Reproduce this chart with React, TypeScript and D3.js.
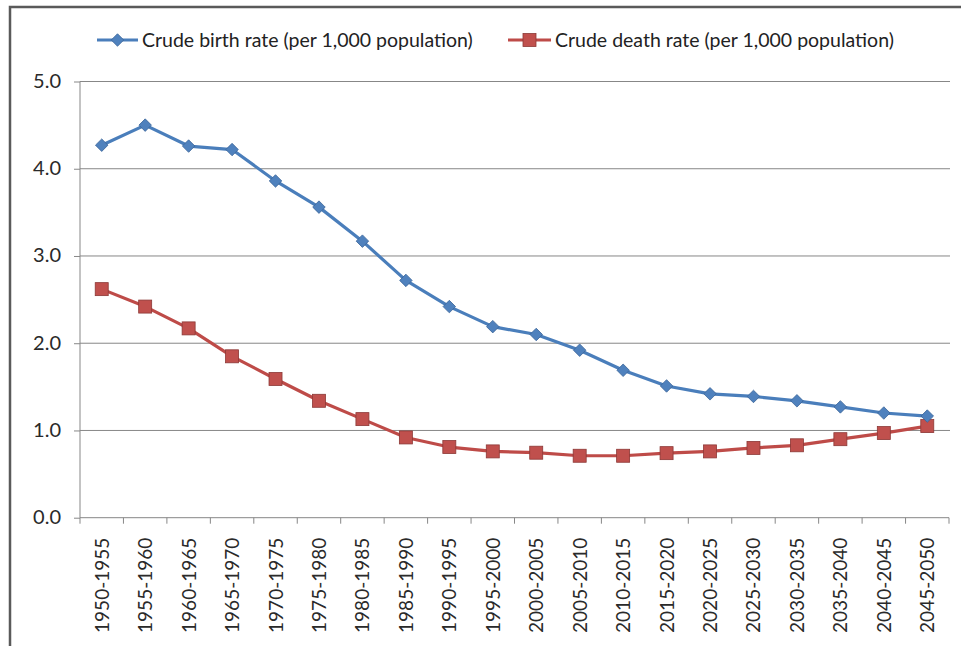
import React, { useEffect, useRef } from "react";
import * as d3 from "d3";

const categories = [
  "1950-1955", "1955-1960", "1960-1965", "1965-1970", "1970-1975",
  "1975-1980", "1980-1985", "1985-1990", "1990-1995", "1995-2000",
  "2000-2005", "2005-2010", "2010-2015", "2015-2020", "2020-2025",
  "2025-2030", "2030-2035", "2035-2040", "2040-2045", "2045-2050",
];
const birthRate = [4.27, 4.5, 4.26, 4.22, 3.86, 3.56, 3.17, 2.72, 2.42, 2.19, 2.1, 1.92, 1.69, 1.51, 1.42, 1.39, 1.34, 1.27, 1.2, 1.165];
const deathRate = [2.62, 2.42, 2.17, 1.85, 1.59, 1.34, 1.13, 0.92, 0.81, 0.76, 0.745, 0.71, 0.71, 0.74, 0.76, 0.8, 0.83, 0.9, 0.97, 1.05];
const yTicks = [0, 1, 2, 3, 4, 5];
const seriesNames = ["Crude birth rate (per 1,000 population)", "Crude death rate (per 1,000 population)"];

const W = 961, H = 646;
const FONT = "Lato, 'Open Sans', sans-serif";

export default function App() {
  const ref = useRef<SVGSVGElement>(null);
  useEffect(() => {
    const svg = d3.select(ref.current);
    svg.selectAll("*").remove();
    const left = 80, right = 949, top = 81.5, bottom = 517.7;
    const x = d3.scaleBand().domain(categories).range([left, right]);
    const y = d3.scaleLinear().domain([0, 5]).range([bottom, top]);

    svg.append("rect").attr("width", W).attr("height", H).attr("fill", "#fff");
    // frame
    svg.append("rect").attr("x", 10).attr("y", 7).attr("width", W + 20).attr("height", H + 20)
      .attr("fill", "none").attr("stroke", "#5a5a5a").attr("stroke-width", 2.5);

    // gridlines
    svg.append("g").selectAll("line").data(yTicks.filter(d => d > 0)).join("line")
      .attr("x1", left).attr("x2", right + 1).attr("y1", d => y(d)).attr("y2", d => y(d))
      .attr("stroke", "#878787").attr("stroke-width", 1);

    // y axis
    const ya = svg.append("g").attr("transform", `translate(${left},0)`)
      .call(d3.axisLeft(y).tickValues(yTicks).tickFormat(d3.format(".1f")).tickSize(6).tickPadding(13));
    ya.select(".domain").attr("stroke", "#878787").attr("d", `M-0,${top}V${bottom}`);
    ya.selectAll(".tick line").attr("stroke", "#878787");
    ya.selectAll("text").attr("font-family", FONT).attr("font-size", 20).attr("fill", "#2a2a2a")
      .attr("dy", "0.3em");

    // x axis
    const xa = svg.append("g").attr("transform", `translate(0,${bottom})`)
      .call(d3.axisBottom(x).tickSize(0).tickPadding(0));
    xa.select(".domain").attr("stroke", "#878787").attr("d", `M${left},0H${right}`);
    xa.selectAll(".tick text").remove();
    xa.selectAll(".tick line").remove();
    const bounds = categories.map(c => x(c)!).concat([right]);
    xa.append("g").selectAll("line").data(bounds).join("line")
      .attr("x1", d => d).attr("x2", d => d).attr("y1", 0).attr("y2", 6)
      .attr("stroke", "#878787");
    xa.append("g").selectAll("text").data(categories).join("text")
      .attr("transform", d => `translate(${x(d)! + x.bandwidth() / 2 + 7},20) rotate(-90)`)
      .attr("text-anchor", "end")
      .attr("font-family", FONT).attr("font-size", 19).attr("fill", "#2a2a2a")
      .text(d => d);

    const cx = (i: number) => x(categories[i])! + x.bandwidth() / 2;
    const line = d3.line<number>().x((_, i) => cx(i)).y(d => y(d));

    const diamond = d3.symbol().type(d3.symbolDiamond2).size(100)();
    // death series
    svg.append("path").datum(deathRate).attr("d", line).attr("fill", "none")
      .attr("stroke", "#BE4B48").attr("stroke-width", 3.2).attr("stroke-linejoin", "round");
    svg.append("g").selectAll("rect").data(deathRate).join("rect")
      .attr("x", (_, i) => cx(i) - 6.5).attr("y", d => y(d) - 6.5)
      .attr("width", 13).attr("height", 13)
      .attr("fill", "#C0504D").attr("stroke", "#8C3836").attr("stroke-width", 0.8);

    // birth series
    svg.append("path").datum(birthRate).attr("d", line).attr("fill", "none")
      .attr("stroke", "#4A7EBB").attr("stroke-width", 3.2).attr("stroke-linejoin", "round");
    svg.append("g").selectAll("path").data(birthRate).join("path")
      .attr("d", diamond)
      .attr("transform", (d, i) => `translate(${cx(i)},${y(d)})`)
      .attr("fill", "#4F81BD").attr("stroke", "#3B6598").attr("stroke-width", 0.8);

    // legend
    const lg = svg.append("g");
    const ly = 40;
    lg.append("line").attr("x1", 97).attr("x2", 138).attr("y1", ly).attr("y2", ly)
      .attr("stroke", "#4A7EBB").attr("stroke-width", 3.2);
    lg.append("path").attr("d", diamond).attr("transform", `translate(117.5,${ly})`)
      .attr("fill", "#4F81BD").attr("stroke", "#3B6598").attr("stroke-width", 0.8);
    lg.append("text").attr("x", 142).attr("y", ly + 7).attr("font-family", FONT)
      .attr("font-size", 19.5).attr("fill", "#222").text(seriesNames[0]);
    lg.append("line").attr("x1", 508).attr("x2", 551).attr("y1", ly).attr("y2", ly)
      .attr("stroke", "#BE4B48").attr("stroke-width", 3.2);
    lg.append("rect").attr("x", 523).attr("y", ly - 6.5).attr("width", 13).attr("height", 13)
      .attr("fill", "#C0504D").attr("stroke", "#8C3836").attr("stroke-width", 0.8);
    lg.append("text").attr("x", 555).attr("y", ly + 7).attr("font-family", FONT)
      .attr("font-size", 19.5).attr("fill", "#222").text(seriesNames[1]);
  }, []);
  return (
    <svg ref={ref} width={W} height={H}
      style={{ position: "absolute", left: 0, top: 0, display: "block" }} />
  );
}
